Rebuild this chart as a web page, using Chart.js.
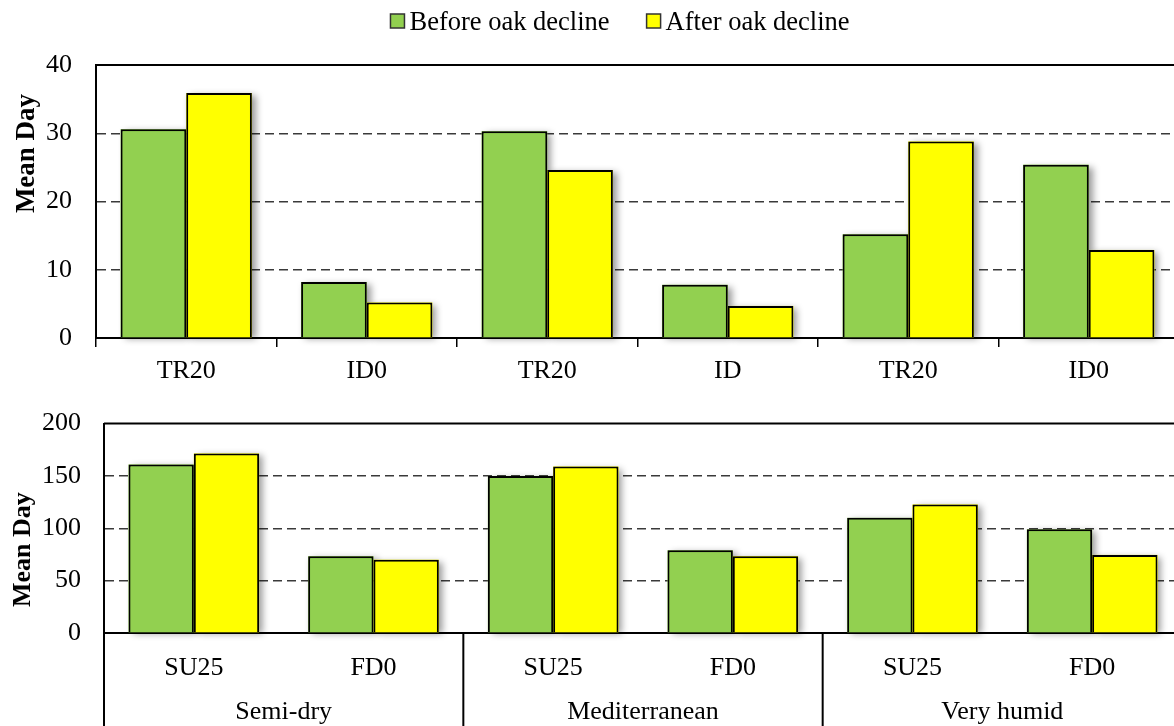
<!DOCTYPE html>
<html>
<head>
<meta charset="utf-8">
<script src="https://cdn.jsdelivr.net/npm/chart.js@4.4.1/dist/chart.umd.min.js"></script>
<style>
  html, body { margin: 0; padding: 0; background: #fff; overflow: hidden; width: 1174px; height: 726px; }
  canvas { display: block; }
</style>
</head>
<body>
<canvas id="topChart" width="1190" height="385"></canvas>
<canvas id="bottomChart" width="1190" height="341"></canvas>
<script>
const seriesNames = ['Before oak decline', 'After oak decline'];
const seriesColors = ['#92D050', '#FFFF00'];

const topCategories = ['TR20', 'ID0', 'TR20', 'ID', 'TR20', 'ID0'];
const topBefore = [30.6, 8.2, 30.3, 7.8, 15.2, 25.4];
const topAfter = [35.9, 5.2, 24.6, 4.7, 28.8, 12.9];
const topTicks = [0, 10, 20, 30, 40];

const bottomCategories = ['SU25', 'FD0', 'SU25', 'FD0', 'SU25', 'FD0'];
const bottomGroups = ['Semi-dry', 'Mediterranean', 'Very humid'];
const bottomBefore = [161, 73.4, 150, 79, 110, 99];
const bottomAfter = [171.5, 70, 159, 73.4, 122.8, 74.6];
const bottomTicks = [0, 50, 100, 150, 200];

const FONT = 'Liberation Serif, Times New Roman, serif';

// soft drop shadow behind each bar (the bar element clips its own drawing,
// so the shadow is painted separately underneath)
const shadowPlugin = {
    id: 'barShadow',
    beforeDatasetsDraw(chart) {
        const ctx = chart.ctx;
        ctx.save();
        ctx.shadowColor = 'rgba(0,0,0,0.4)';
        ctx.shadowBlur = 7;
        ctx.shadowOffsetX = 4;
        ctx.shadowOffsetY = 2;
        chart.data.datasets.forEach((ds, i) => {
            chart.getDatasetMeta(i).data.forEach(el => {
                const p = el.getProps(['x', 'y', 'base', 'width'], true);
                const top = Math.min(p.y, p.base);
                ctx.fillStyle = ds.backgroundColor;
                ctx.fillRect(p.x - p.width / 2, top, p.width, Math.abs(p.base - p.y));
            });
        });
        ctx.restore();
    }
};

// solid top border of the plot area
const topBorderPlugin = {
    id: 'topBorder',
    afterDraw(chart) {
        const {ctx, chartArea} = chart;
        ctx.save();
        ctx.strokeStyle = '#000';
        ctx.lineWidth = 2;
        ctx.beginPath();
        ctx.moveTo(chartArea.left, chartArea.top);
        ctx.lineTo(chartArea.right, chartArea.top);
        ctx.stroke();
        ctx.restore();
    }
};

// rotated y axis title
function yTitlePlugin(x, dy, size) {
    return {
        id: 'yTitle',
        afterDraw(chart) {
            const ctx = chart.ctx;
            ctx.save();
            ctx.translate(x, chart.chartArea.top + dy);
            ctx.rotate(-Math.PI / 2);
            ctx.font = 'bold ' + size + 'px ' + FONT;
            ctx.fillStyle = '#000';
            ctx.textAlign = 'center';
            ctx.textBaseline = 'middle';
            ctx.fillText('Mean Day', 0, 0);
            ctx.restore();
        }
    };
}

const legendPlugin = {
    id: 'customLegend',
    afterDraw(chart) {
        const ctx = chart.ctx;
        ctx.save();
        ctx.font = '26.5px ' + FONT;
        const widths = seriesNames.map(n => ctx.measureText(n).width);
        const box = 14, gap = 5, itemGap = 37;
        const total = widths.reduce((a, w) => a + box + gap + w, 0) + itemGap;
        let x = 620 - total / 2;
        ctx.textBaseline = 'alphabetic';
        seriesNames.forEach((name, i) => {
            ctx.fillStyle = seriesColors[i];
            ctx.fillRect(x, 14, box, box);
            ctx.strokeStyle = '#333';
            ctx.lineWidth = 1.5;
            ctx.strokeRect(x, 14, box, box);
            ctx.fillStyle = '#000';
            ctx.fillText(name, x + box + gap, 30);
            x += box + gap + widths[i] + itemGap;
        });
        ctx.restore();
    }
};

// group separators and group labels under the bottom chart
const groupPlugin = {
    id: 'groups',
    afterDraw(chart) {
        const {ctx, chartArea} = chart;
        const xs = chart.scales.x;
        const catW = xs.width / bottomCategories.length;
        const per = bottomCategories.length / bottomGroups.length;
        ctx.save();
        ctx.strokeStyle = '#000';
        ctx.lineWidth = 2;
        for (let g = 0; g <= bottomGroups.length; g++) {
            const x = xs.left + g * per * catW;
            ctx.beginPath();
            ctx.moveTo(x, chartArea.bottom);
            ctx.lineTo(x, chart.height);
            ctx.stroke();
        }
        ctx.font = '26px ' + FONT;
        ctx.fillStyle = '#000';
        ctx.textAlign = 'center';
        ctx.textBaseline = 'alphabetic';
        bottomGroups.forEach((name, g) => {
            const cx = xs.left + (g + 0.5) * per * catW;
            ctx.fillText(name, cx, 334);
        });
        ctx.restore();
    }
};

function gridColor(max) {
    return c => (c.tick.value === 0 || c.tick.value === max) ? 'rgba(0,0,0,0)' : '#3a3a3a';
}

function makeChart(id, labels, before, after, ticks, opt) {
    const max = ticks[ticks.length - 1];
    return new Chart(document.getElementById(id), {
        type: 'bar',
        data: {
            labels: labels,
            datasets: [
                { label: seriesNames[0], data: before, backgroundColor: seriesColors[0], borderColor: '#000', borderWidth: 2 },
                { label: seriesNames[1], data: after, backgroundColor: seriesColors[1], borderColor: '#000', borderWidth: 2 }
            ]
        },
        options: {
            responsive: false,
            animation: false,
            layout: { padding: opt.padding },
            datasets: { bar: { categoryPercentage: 0.727, barPercentage: 1 } },
            plugins: { legend: { display: false }, tooltip: { enabled: false } },
            scales: {
                x: {
                    afterFit: s => { s.height = opt.xHeight; },
                    grid: opt.xGrid,
                    border: { display: true, color: '#000', width: 2 },
                    ticks: { color: '#000', padding: opt.xPad, font: { family: FONT, size: 26 } }
                },
                y: {
                    min: 0,
                    max: max,
                    afterFit: s => { s.width = opt.yWidth; },
                    afterBuildTicks: s => { s.ticks = ticks.map(v => ({ value: v })); },
                    grid: { color: gridColor(max), lineWidth: 1.5, drawTicks: false },
                    border: { display: true, color: '#000', width: 2, dash: [9, 5] },
                    ticks: { color: '#000', padding: opt.yPad, font: { family: FONT, size: 26 } }
                }
            }
        },
        plugins: opt.plugins
    });
}

makeChart('topChart', topCategories, topBefore, topAfter, topTicks, {
    padding: { top: 65, right: 11, left: 0, bottom: 0 },
    xHeight: 47,
    yWidth: 96,
    xPad: 9,
    yPad: 24,
    xGrid: { offset: true, drawOnChartArea: false, drawTicks: true, tickLength: 9, color: '#000', lineWidth: 1.5 },
    plugins: [shadowPlugin, topBorderPlugin, legendPlugin, yTitlePlugin(27, 88.5, 27)]
});

makeChart('bottomChart', bottomCategories, bottomBefore, bottomAfter, bottomTicks, {
    padding: { top: 31, right: 8, left: 0, bottom: 0 },
    xHeight: 93,
    yWidth: 104,
    xPad: 12,
    yPad: 23,
    xGrid: { display: false },
    plugins: [shadowPlugin, topBorderPlugin, groupPlugin, yTitlePlugin(23.5, 126, 26)]
});
</script>
</body>
</html>
